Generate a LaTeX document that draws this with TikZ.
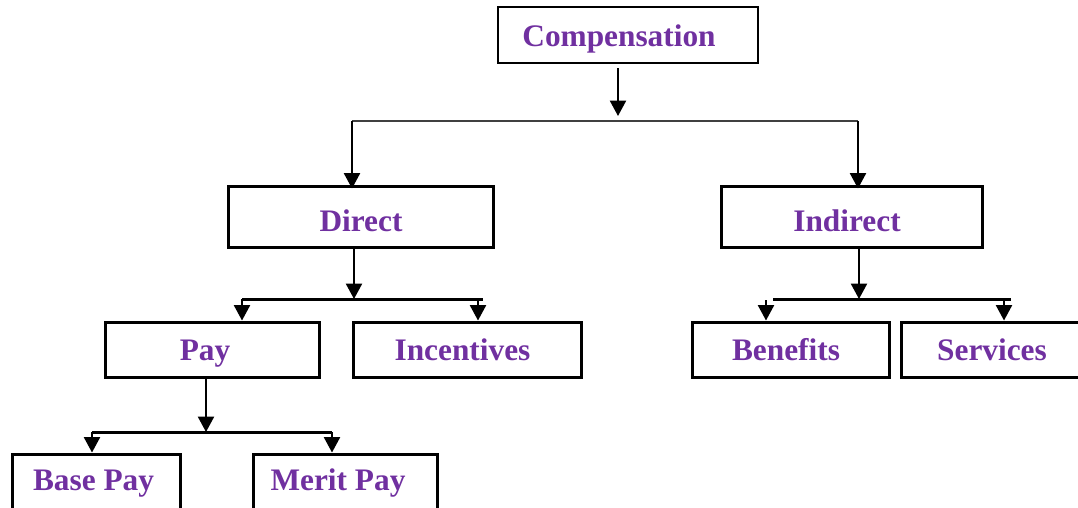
\documentclass[tikz,border=0pt]{standalone}
\usepackage{fontspec}
\setmainfont{Liberation Serif}
\usetikzlibrary{arrows.meta}
\definecolor{lblpurple}{HTML}{7030A0}
\begin{document}
\begin{tikzpicture}[x=0.75pt,y=-0.75pt,
  box/.style={draw=black,line width=2.25pt,fill=none,inner sep=0pt,rectangle},
  topbox/.style={box,line width=1.5pt},
  lbl/.style={inner sep=0pt,anchor=base,text=lblpurple,font=\fontsize{23.5pt}{28pt}\selectfont\bfseries},
  arr/.style={line width=1.5pt,-{Triangle[width=12pt,length=11.5pt]}},
  bar/.style={line width=2.25pt},
  thinbar/.style={line width=1.6pt,draw=black!75}]
\useasboundingbox (0,0) rectangle (1078,507);
\clip (0,0) rectangle (1078,507);
% boxes
\node[topbox,minimum width=260*0.75pt,minimum height=56*0.75pt] (comp) at (628,35) {};
\node[box,minimum width=265*0.75pt,minimum height=61*0.75pt] (direct) at (360.5,216.5) {};
\node[box,minimum width=261*0.75pt,minimum height=61*0.75pt] (indirect) at (851.5,216.5) {};
\node[box,minimum width=214*0.75pt,minimum height=55*0.75pt] (pay) at (212,349.5) {};
\node[box,minimum width=228*0.75pt,minimum height=55*0.75pt] (incent) at (467,349.5) {};
\node[box,minimum width=197*0.75pt,minimum height=55*0.75pt] (benef) at (790.5,349.5) {};
\node[box,minimum width=189*0.75pt,minimum height=55*0.75pt] (serv) at (995.5,349.5) {};
\node[box,minimum width=168*0.75pt,minimum height=66*0.75pt] (base) at (96,487) {};
\node[box,minimum width=184*0.75pt,minimum height=66*0.75pt] (merit) at (345,487) {};
% labels
\node[lbl] (tcomp) at (619,46) {Compensation};
\node[lbl] (tdirect) at (361,231) {Direct};
\node[lbl] (tindirect) at (847,231) {Indirect};
\node[lbl] (tpay) at (205,360) {Pay};
\node[lbl] (tincent) at (462.5,360) {Incentives};
\node[lbl] (tbenef) at (786,360) {Benefits};
\node[lbl] (tserv) at (992,360) {Services};
\node[lbl] (tbase) at (93.5,490) {Base Pay};
\node[lbl] (tmerit) at (338,490) {Merit Pay};
% junction coordinates
\coordinate (j1) at (618,116);
\coordinate (b1l) at (352,121);
\coordinate (b1r) at (858,121);
\coordinate (j2) at (354,299);
\coordinate (b2l) at (242,299);
\coordinate (b2r) at (478,299);
\coordinate (j3) at (859,299);
\coordinate (b3l) at (766,299);
\coordinate (b3r) at (1004,299);
\coordinate (j4) at (206,432);
\coordinate (b4l) at (92,432);
\coordinate (b4r) at (332,432);
% connectors
\draw[arr] (comp.south -| j1) ++(0,4) -- (j1);
\draw[thinbar] (b1l) -- (b1r);
\draw[arr] (b1l) -- ([yshift=-3pt]b1l |- direct.north);
\draw[arr] (b1r) -- ([yshift=-3pt]b1r |- indirect.north);
\draw[arr] (direct.south -| j2) -- (j2);
\draw[bar] (b2l) -- (483,299);
\draw[arr] (b2l) -- (b2l |- pay.north);
\draw[arr] (b2r) -- (b2r |- incent.north);
\draw[arr] (indirect.south -| j3) -- (j3);
\draw[bar] (773,299) -- (1011,299);
\draw[arr] ([yshift=-1pt]b3l) -- (b3l |- benef.north);
\draw[arr] (b3r) -- (b3r |- serv.north);
\draw[arr] (pay.south -| j4) -- (j4);
\draw[bar] (b4l) -- (b4r);
\draw[arr] (b4l) -- (b4l |- base.north);
\draw[arr] (b4r) -- (b4r |- merit.north);
\end{tikzpicture}
\end{document}
